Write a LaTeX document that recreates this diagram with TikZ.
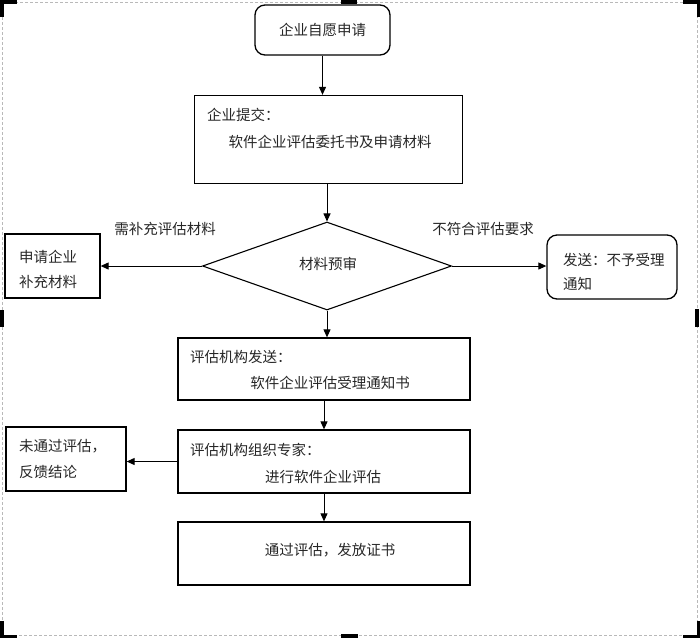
\documentclass[tikz,border=0pt]{standalone}
\usepackage{fontspec}
\setmainfont{Noto Sans CJK SC}
\usetikzlibrary{shapes.geometric,arrows.meta}
\begin{document}
\begin{tikzpicture}[x=1pt,y=-1pt,
  box/.style={draw, line width=1.3pt, inner sep=0pt},
  rbox/.style={box, rounded corners=10pt},
  txt/.style={inner sep=0pt, text=black!85, font=\fontsize{14.5}{16}\selectfont},
  arr/.style={line width=1pt, -{Triangle[length=8pt,width=7pt]}},
  handle/.style={fill=black, draw=none}]
\useasboundingbox (0,0) rectangle (700,638);
% frame
\draw[gray!55, line width=1pt, dash pattern=on 3pt off 2pt] (2,2) rectangle (697,635);
\fill[handle] (0,0) rectangle (17,3.5);
\fill[handle] (0,0) rectangle (4,17);
\fill[handle] (683,0) rectangle (700,3.5);
\fill[handle] (696.5,0) rectangle (700,17);
\fill[handle] (0,634.5) rectangle (17,638);
\fill[handle] (0,621) rectangle (4,638);
\fill[handle] (683,634.5) rectangle (700,638);
\fill[handle] (696.5,621) rectangle (700,638);
\fill[handle] (341,0) rectangle (357,3.5);
\fill[handle] (341,634) rectangle (358,638);
\fill[handle] (0,310) rectangle (4,327);
\fill[handle] (695,309) rectangle (699,327);
% nodes
\node[rbox, minimum width=135pt, minimum height=50pt] (n1) at (322.5,30) {};
\node[txt] (t1) at (n1) {企业自愿申请};
\node[box, minimum width=268pt, minimum height=88pt] (n2) at (328.5,139.5) {};
\node[txt, anchor=west] (t2a) at (207,115) {企业提交：};
\node[txt] (t2b) at (330,142) {软件企业评估委托书及申请材料};
\node[draw, diamond, line width=1.1pt, inner sep=0pt, minimum width=249pt, minimum height=88pt] (d) at (327,266) {};
\node[txt] (td) at (328,264) {材料预审};
\node[txt] (lbl1) at (165,229) {需补充评估材料};
\node[txt] (lbl2) at (483,229) {不符合评估要求};
\node[box, minimum width=95pt, minimum height=64pt] (nL) at (52.5,266) {};
\node[txt, anchor=west] (tL1) at (19,257) {申请企业};
\node[txt, anchor=west] (tL2) at (19,282) {补充材料};
\node[rbox, minimum width=130pt, minimum height=64pt] (nR) at (612,267) {};
\node[txt, anchor=west] (tR1) at (563,260) {发送：不予受理};
\node[txt, anchor=west] (tR2) at (563,284) {通知};
\node[box, minimum width=292pt, minimum height=62pt] (n3) at (324,369) {};
\node[txt, anchor=west] (t3a) at (190,357) {评估机构发送：};
\node[txt] (t3b) at (330,383) {软件企业评估受理通知书};
\node[box, minimum width=292pt, minimum height=63pt] (n4) at (324,461.5) {};
\node[txt, anchor=west] (t4a) at (190,450) {评估机构组织专家：};
\node[txt] (t4b) at (323,477) {进行软件企业评估};
\node[box, minimum width=120pt, minimum height=64pt] (n5) at (66,459) {};
\node[txt, anchor=west] (t5a) at (19,446) {未通过评估，};
\node[txt, anchor=west] (t5b) at (19,472) {反馈结论};
\node[box, minimum width=292pt, minimum height=63pt] (n6) at (324,553.5) {};
\node[txt] (t6) at (330,550) {通过评估，发放证书};
% arrows
\draw[arr] (n1.south) -- (n1.south |- n2.north);
\draw[arr] (d.north |- n2.south) -- (d.north);
\draw[arr] (d.west) -- (d.west -| nL.east);
\draw[arr] (d.east) -- (d.east -| nR.west);
\draw[arr] (d.south) -- (d.south |- n3.north);
\draw[arr] (n3.south) -- (n4.north);
\draw[arr] (n4.west) -- (n4.west -| n5.east);
\draw[arr] (n4.south) -- (n6.north);
\end{tikzpicture}
\end{document}
